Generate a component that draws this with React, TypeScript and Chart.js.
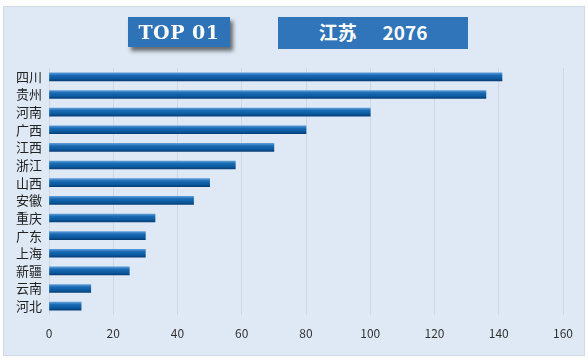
import React, { useEffect, useRef } from "react";
import { Chart, registerables } from "chart.js";

Chart.register(...registerables);

const provinces = ["四川", "贵州", "河南", "广西", "江西", "浙江", "山西", "安徽", "重庆", "广东", "上海", "新疆", "云南", "河北"];
const values = [141, 136, 100, 80, 70, 58, 50, 45, 33, 30, 30, 25, 13, 10];
const xMin = 0;
const xMax = 160;
const xStep = 20;
const topLabel = "TOP 01";
const topProvince = "江苏";
const topValue = "2076";

export default function App() {
  const ref = useRef<HTMLCanvasElement | null>(null);
  useEffect(() => {
    document.body.style.margin = "0";
    const canvas = ref.current;
    if (!canvas) return;
    const chart = new Chart(canvas, {
      type: "bar",
      data: {
        labels: provinces,
        datasets: [
          {
            data: values,
            barThickness: 8,
            borderWidth: 0,
            backgroundColor: (ctx: any) => {
              const c = ctx.chart;
              const ys = c.scales && c.scales.y;
              if (!ys || ctx.dataIndex === undefined) return "#0f5fa6";
              const y = ys.getPixelForValue(ctx.dataIndex);
              if (!isFinite(y)) return "#0f5fa6";
              const g = c.ctx.createLinearGradient(0, y - 4, 0, y + 4);
              g.addColorStop(0, "#5a9ad6");
              g.addColorStop(0.3, "#1a6bb5");
              g.addColorStop(0.7, "#0c5aa0");
              g.addColorStop(1, "#073f78");
              return g;
            },
          },
        ],
      },
      options: {
        indexAxis: "y",
        animation: false,
        responsive: false,
        maintainAspectRatio: false,
        layout: { padding: { top: 61, right: 14, bottom: 0, left: 0 } },
        plugins: { legend: { display: false }, tooltip: { enabled: false } },
        scales: {
          x: {
            min: xMin,
            max: xMax,
            ticks: {
              stepSize: xStep,
              color: "#333",
              padding: 11,
              font: { family: "'Noto Sans CJK SC', 'DejaVu Sans', sans-serif", size: 12 },
            },
            grid: { color: "#cdd8e4", drawTicks: false },
            border: { display: false },
            afterFit: (s: any) => {
              s.height = 40;
            },
          },
          y: {
            ticks: {
              autoSkip: false,
              color: "#222",
              padding: 7,
              font: { family: "'Noto Sans CJK SC', sans-serif", size: 13 },
            },
            grid: { display: false, drawTicks: false },
            border: { display: false },
            afterFit: (s: any) => {
              s.width = 45;
            },
          },
        },
      },
    } as any);
    return () => chart.destroy();
  }, []);

  return (
    <div style={{ position: "absolute", left: 0, top: 0, width: 588, height: 360, background: "#fff" }}>
      <div
        style={{
          position: "absolute",
          left: 3,
          top: 6,
          width: 580,
          height: 348,
          border: "1px solid #d3dae2",
          background: "#dfe9f6",
        }}
      >
        <canvas ref={ref} width={580} height={348} style={{ position: "absolute", left: 0, top: 0 }} />
        <div
          style={{
            position: "absolute",
            left: 124,
            top: 10,
            width: 102,
            height: 30,
            background: "#2e72b7",
            boxShadow: "3px 4px 4px rgba(0,0,0,0.55)",
            color: "#fff",
            fontFamily: "'DejaVu Serif', serif",
            fontWeight: 900,
            fontSize: 19,
            lineHeight: "30px",
            textAlign: "center",
            letterSpacing: 0.5,
          }}
        >
          {topLabel}
        </div>
        <div
          style={{
            position: "absolute",
            left: 274,
            top: 10,
            width: 190,
            height: 32,
            background: "#3074b9",
            color: "#fff",
            fontFamily: "'Noto Sans CJK SC', sans-serif",
            fontWeight: 700,
            fontSize: 19,
            lineHeight: "30px",
            textAlign: "center",
            whiteSpace: "pre",
          }}
        >
          {topProvince + "      " + topValue}
        </div>
      </div>
    </div>
  );
}
